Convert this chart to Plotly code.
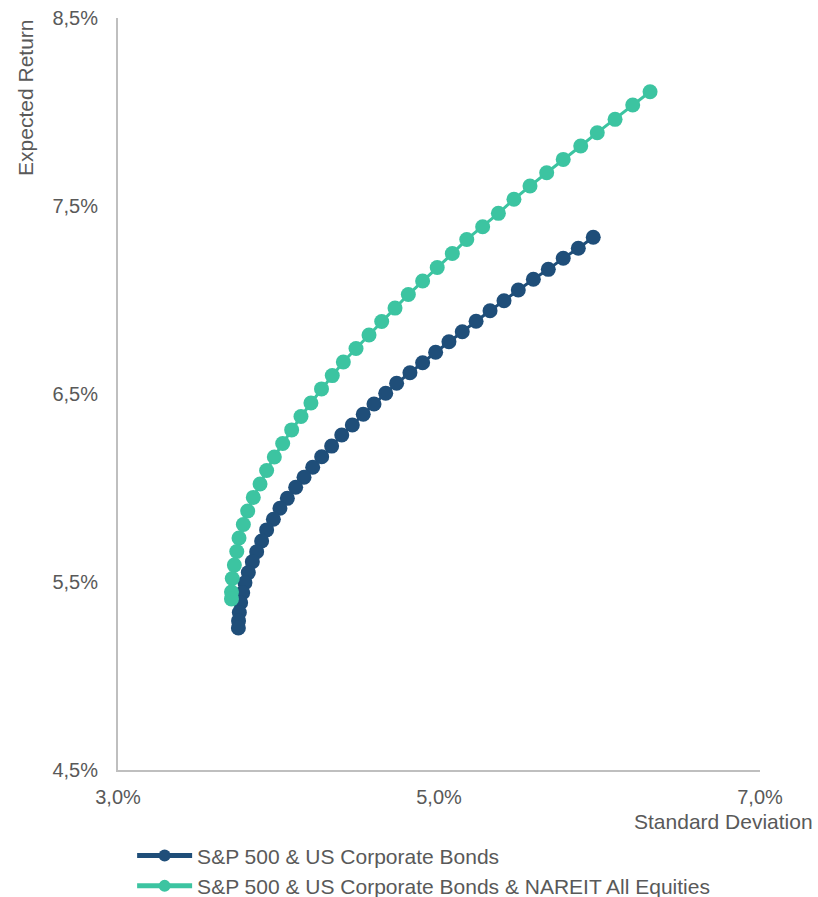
import plotly.graph_objects as go

# Series 1: S&P 500 & US Corporate Bonds (std dev %, expected return %)
sp_bonds_std = [5.961, 5.868, 5.774, 5.681, 5.588, 5.494, 5.405, 5.318, 5.231, 5.145,
                5.062, 4.979, 4.898, 4.819, 4.736, 4.668, 4.595, 4.528, 4.460, 4.394,
                4.331, 4.269, 4.213, 4.159, 4.107, 4.055, 4.009, 3.968, 3.926, 3.895,
                3.864, 3.837, 3.812, 3.791, 3.777, 3.764, 3.756, 3.751, 3.750]
sp_bonds_ret = [7.334, 7.275, 7.222, 7.163, 7.110, 7.053, 6.996, 6.943, 6.887, 6.831,
                6.778, 6.722, 6.666, 6.613, 6.557, 6.504, 6.447, 6.392, 6.335, 6.282,
                6.223, 6.166, 6.110, 6.057, 6.004, 5.945, 5.892, 5.834, 5.777, 5.718,
                5.661, 5.608, 5.550, 5.496, 5.443, 5.390, 5.338, 5.293, 5.255]

# Series 2: S&P 500 & US Corporate Bonds & NAREIT All Equities
sp_bonds_reit_std = [6.315, 6.207, 6.097, 5.986, 5.883, 5.774, 5.671, 5.567, 5.467, 5.370,
                     5.272, 5.173, 5.083, 4.989, 4.898, 4.809, 4.726, 4.643, 4.564, 4.483,
                     4.404, 4.335, 4.268, 4.202, 4.140, 4.082, 4.026, 3.974, 3.926, 3.885,
                     3.843, 3.808, 3.781, 3.754, 3.740, 3.725, 3.712, 3.707, 3.707]
sp_bonds_reit_ret = [8.108, 8.037, 7.961, 7.890, 7.819, 7.748, 7.677, 7.606, 7.536, 7.461,
                     7.390, 7.322, 7.247, 7.173, 7.101, 7.029, 6.957, 6.886, 6.814, 6.742,
                     6.670, 6.598, 6.527, 6.452, 6.380, 6.309, 6.237, 6.165, 6.093, 6.021,
                     5.950, 5.878, 5.806, 5.734, 5.662, 5.590, 5.519, 5.447, 5.410]

series_names = ["S&P 500 & US Corporate Bonds",
                "S&P 500 & US Corporate Bonds & NAREIT All Equities"]

x_tick_vals = [3.0, 5.0, 7.0]
x_tick_text = ["3,0%", "5,0%", "7,0%"]
y_tick_vals = [4.5, 5.5, 6.5, 7.5, 8.5]
y_tick_text = ["4,5%", "5,5%", "6,5%", "7,5%", "8,5%"]

DARK = "#1F4E79"
GREEN = "#3CC4A1"
TEXT = "#595959"
AXIS = "#BFBFBF"
FONT = "Liberation Sans, Arial, sans-serif"
FS = 21

fig = go.Figure()
fig.add_trace(go.Scatter(
    x=sp_bonds_std, y=sp_bonds_ret, mode="lines+markers", name=series_names[0],
    line=dict(color=DARK, width=3), marker=dict(color=DARK, size=15)))
fig.add_trace(go.Scatter(
    x=sp_bonds_reit_std, y=sp_bonds_reit_ret, mode="lines+markers", name=series_names[1],
    line=dict(color=GREEN, width=3), marker=dict(color=GREEN, size=15)))

fig.update_layout(
    width=818, height=897,
    margin=dict(l=118, r=58, t=18, b=127, autoexpand=False),
    paper_bgcolor="white", plot_bgcolor="white",
    font=dict(family=FONT, size=FS, color=TEXT),
    showlegend=True,
    legend=dict(orientation="v", x=0.022, y=-0.087, xanchor="left", yanchor="top",
                font=dict(family=FONT, size=21, color=TEXT), itemwidth=55,
                bgcolor="rgba(0,0,0,0)", tracegroupgap=0, itemsizing="constant"),
    xaxis=dict(range=[3.0, 7.0], tickvals=x_tick_vals, ticktext=x_tick_text,
               showgrid=False, zeroline=False, showline=True, linecolor=AXIS, linewidth=2,
               ticks="", ticklabelstandoff=8, tickfont=dict(size=20, color=TEXT)),
    yaxis=dict(range=[4.5, 8.5], tickvals=y_tick_vals, ticktext=y_tick_text,
               showgrid=False, zeroline=False, showline=True, linecolor=AXIS, linewidth=2,
               ticks="", ticklabelstandoff=14, tickfont=dict(size=20, color=TEXT)),
    annotations=[
        dict(text="Expected Return", xref="paper", yref="paper", x=-0.145, y=1.0,
             xanchor="center", yanchor="top", textangle=-90, showarrow=False,
             font=dict(family=FONT, size=FS, color=TEXT)),
        dict(text="Standard Deviation", xref="paper", yref="paper", x=1.0857, y=-0.068,
             xanchor="right", yanchor="middle", showarrow=False,
             font=dict(family=FONT, size=FS, color=TEXT)),
    ],
)

fig.write_html("out.html")
